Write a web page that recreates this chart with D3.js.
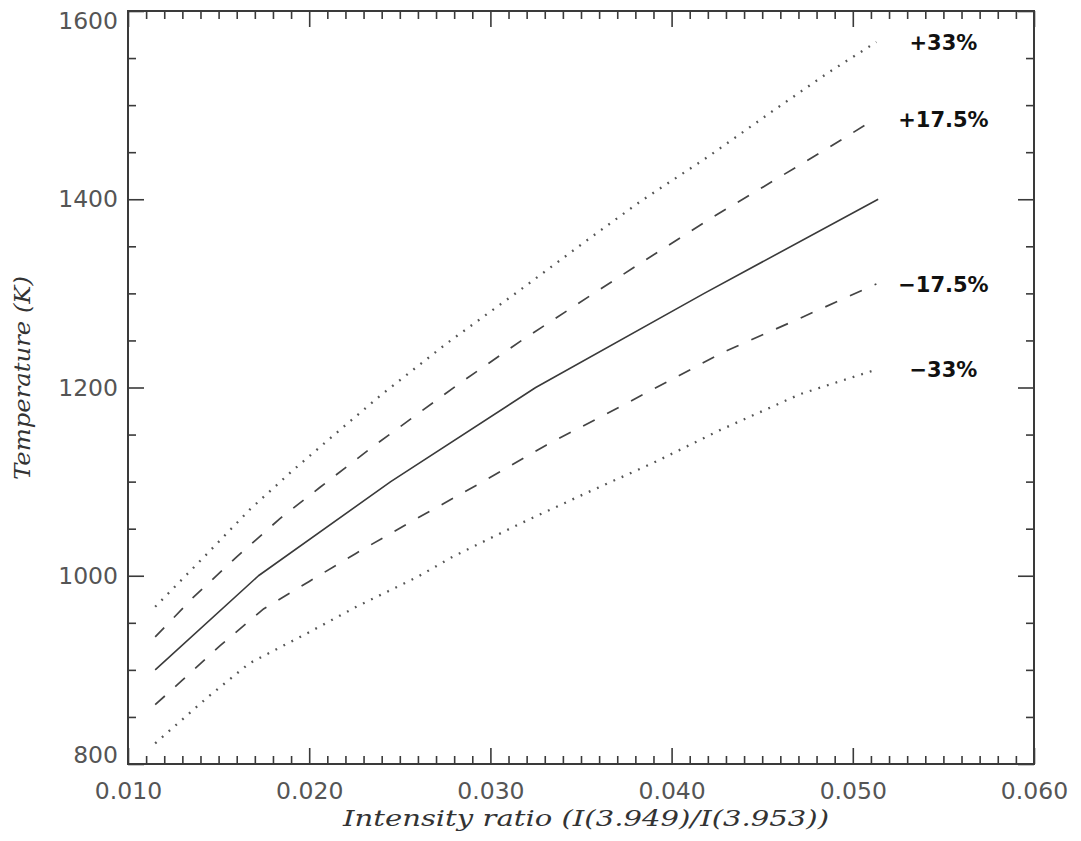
<!DOCTYPE html>
<html>
<head>
<meta charset="utf-8">
<script src="https://cdn.jsdelivr.net/npm/d3@7"></script>
<style>
  html, body { margin: 0; padding: 0; background: #fff; }
  svg { display: block; }
</style>
</head>
<body>
<svg id="chart" width="1081" height="841"></svg>
<script>
// Temperature vs. line-intensity ratio, with curves for ratio uncertainties

const xTicks = [0.010, 0.020, 0.030, 0.040, 0.050, 0.060];
const yTicks = [800, 1000, 1200, 1400, 1600];

const ratioNominal = [0.0115, 0.0172, 0.0245, 0.0325, 0.0418, 0.0514];
const tempNominal  = [900, 1000, 1100, 1200, 1300, 1400];

const ratioPlus33 = [0.0115, 0.0144, 0.0167, 0.0191, 0.0217, 0.0239, 0.0276, 0.0316, 0.0353, 0.0383, 0.0420, 0.0456, 0.0486, 0.0513];
const tempPlus33  = [967, 1024, 1070, 1112, 1155, 1191, 1247, 1303, 1356, 1398, 1445, 1494, 1534, 1567];

const ratioPlus175 = [0.0115, 0.0136, 0.0160, 0.0184, 0.0206, 0.0235, 0.0282, 0.0318, 0.0357, 0.0386, 0.0421, 0.0460, 0.0486, 0.0512];
const tempPlus175  = [935, 977, 1020, 1061, 1094, 1137, 1203, 1251, 1300, 1336, 1379, 1424, 1454, 1485];

const ratioMinus175 = [0.0115, 0.0130, 0.0151, 0.0175, 0.0200, 0.0226, 0.0254, 0.0294, 0.0331, 0.0372, 0.0428, 0.0469, 0.0513];
const tempMinus175  = [863, 889, 926, 965, 994, 1024, 1055, 1098, 1139, 1180, 1237, 1272, 1310];

const ratioMinus33 = [0.0115, 0.0144, 0.0167, 0.0199, 0.0226, 0.0260, 0.0279, 0.0316, 0.0353, 0.0390, 0.0427, 0.0471, 0.0513];
const tempMinus33  = [822, 871, 907, 939, 967, 999, 1020, 1055, 1088, 1120, 1155, 1193, 1219];

const curveLabels = ["+33%", "+17.5%", "\u221217.5%", "\u221233%"];
const labelRatio = 0.0550;

const xTitle = "Intensity ratio (I(3.949)/I(3.953))";
const yTitle = "Temperature (K)";

// ---- layout ----
const svg = d3.select("#chart");
const plotL = 128, plotR = 1034, plotT = 11, plotB = 764;

const x = d3.scaleLinear().domain([0.010, 0.060]).range([plotL, plotR]);
const y = d3.scaleLinear().domain([800, 1600]).range([plotB, plotT]);

const axisColor = "#3a3a3a";
const labelColor = "#555";

// minor tick values
const xMinor = d3.range(0, 51).map(i => 0.010 + i * 0.001).filter(v => !xTicks.some(t => Math.abs(t - v) < 1e-9));
const yMinor = d3.range(0, 17).map(i => 800 + i * 50).filter(v => !yTicks.includes(v));

function styleAxis(g) {
  g.select(".domain").remove();
  g.selectAll(".tick line").attr("stroke", axisColor).attr("stroke-width", 1.6);
}

// minor ticks on all four sides
[
  [d3.axisBottom(x), `translate(0,${plotB})`, xMinor],
  [d3.axisTop(x), `translate(0,${plotT})`, xMinor],
  [d3.axisLeft(y), `translate(${plotL},0)`, yMinor],
  [d3.axisRight(y), `translate(${plotR},0)`, yMinor]
].forEach(([ax, tr, vals]) => {
  svg.append("g").attr("transform", tr)
    .call(ax.tickValues(vals).tickSize(-8).tickFormat(""))
    .call(styleAxis);
});

// major ticks: bottom + left carry labels
const gx = svg.append("g").attr("transform", `translate(0,${plotB})`)
  .call(d3.axisBottom(x).tickValues(xTicks).tickSize(-16).tickPadding(18).tickFormat(d3.format(".3f")))
  .call(styleAxis);
const gy = svg.append("g").attr("transform", `translate(${plotL},0)`)
  .call(d3.axisLeft(y).tickValues(yTicks).tickSize(-16).tickPadding(10).tickFormat(d3.format("d")))
  .call(styleAxis);
svg.append("g").attr("transform", `translate(0,${plotT})`)
  .call(d3.axisTop(x).tickValues(xTicks).tickSize(-16).tickFormat(""))
  .call(styleAxis);
svg.append("g").attr("transform", `translate(${plotR},0)`)
  .call(d3.axisRight(y).tickValues(yTicks).tickSize(-16).tickFormat(""))
  .call(styleAxis);

[gx, gy].forEach(g => g.selectAll(".tick text")
  .attr("font-family", "DejaVu Sans, sans-serif")
  .attr("font-size", 23.5)
  .attr("fill", labelColor));

// end labels on the y axis are kept inside the frame height
gy.selectAll(".tick text").attr("dy", d => d === 1600 ? "0.75em" : d === 800 ? "-0.05em" : "0.32em");

// frame
svg.append("rect")
  .attr("x", plotL).attr("y", plotT)
  .attr("width", plotR - plotL).attr("height", plotB - plotT)
  .attr("fill", "none").attr("stroke", axisColor).attr("stroke-width", 2);

// curves
const line = d3.line().x(d => x(d[0])).y(d => y(d[1]));
const zip = (a, b) => a.map((v, i) => [v, b[i]]);

const series = [
  { rx: ratioPlus33,   ty: tempPlus33,   dash: "1.8,7.2", width: 2.3, color: "#555" },
  { rx: ratioPlus175,  ty: tempPlus175,  dash: "13,14",   width: 1.7, color: "#444" },
  { rx: ratioNominal,  ty: tempNominal,  dash: null,      width: 1.6, color: "#3a3a3a" },
  { rx: ratioMinus175, ty: tempMinus175, dash: "13,14",   width: 1.7, color: "#444" },
  { rx: ratioMinus33,  ty: tempMinus33,  dash: "1.8,7.2", width: 2.3, color: "#555" }
];

series.forEach(s => {
  svg.append("path")
    .datum(zip(s.rx, s.ty))
    .attr("d", line)
    .attr("fill", "none")
    .attr("stroke", s.color)
    .attr("stroke-width", s.width)
    .attr("stroke-dasharray", s.dash)
    .attr("stroke-linejoin", "round");
});

// percentage labels beside the curve ends
const labelled = [series[0], series[1], series[3], series[4]];
labelled.forEach((s, i) => {
  svg.append("text")
    .attr("x", x(labelRatio))
    .attr("y", y(s.ty[s.ty.length - 1]))
    .attr("dy", "0.36em")
    .attr("text-anchor", "middle")
    .attr("font-family", "DejaVu Sans, sans-serif")
    .attr("font-weight", "bold")
    .attr("font-size", 21)
    .attr("fill", "#111")
    .text(curveLabels[i]);
});

// axis titles
svg.append("text")
  .attr("x", (plotL + plotR) / 2 + 5)
  .attr("y", 826)
  .attr("text-anchor", "middle")
  .attr("font-family", "DejaVu Serif, serif")
  .attr("font-style", "italic")
  .attr("font-size", 22.5)
  .attr("fill", "#333")
  .attr("textLength", 486)
  .attr("lengthAdjust", "spacingAndGlyphs")
  .text(xTitle);

svg.append("text")
  .attr("transform", `translate(30,${378}) rotate(-90)`)
  .attr("text-anchor", "middle")
  .attr("font-family", "DejaVu Serif, serif")
  .attr("font-style", "italic")
  .attr("font-size", 23)
  .attr("fill", "#333")
  .attr("textLength", 204)
  .attr("lengthAdjust", "spacingAndGlyphs")
  .text(yTitle);
</script>
</body>
</html>
